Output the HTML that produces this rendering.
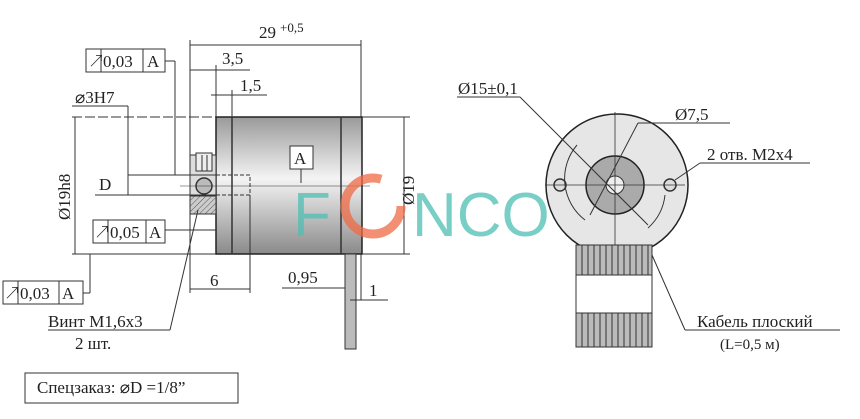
<!DOCTYPE html>
<html><head><style>
body{margin:0;background:#fff}
svg{display:block}
text{font-family:"Liberation Serif","Noto Serif CJK SC",serif;fill:#222}
text.wm{font-family:"Liberation Sans",sans-serif;fill:#4dbfb3}
</style></head><body>
<svg width="860" height="419" viewBox="0 0 860 419" xmlns="http://www.w3.org/2000/svg">
<defs>
<linearGradient id="cyl" x1="0" y1="0" x2="0" y2="1">
<stop offset="0" stop-color="#9a9a9a"/><stop offset="0.45" stop-color="#f4f4f4"/><stop offset="1" stop-color="#8a8a8a"/>
</linearGradient>
<pattern id="hat" width="4" height="4" patternUnits="userSpaceOnUse" patternTransform="rotate(45)">
<rect width="4" height="4" fill="#ccc"/><line x1="0" y1="0" x2="0" y2="4" stroke="#555" stroke-width="1"/>
</pattern>
</defs>
<g stroke="#333" stroke-width="1" fill="none">
<rect x="216" y="117" width="146" height="137" fill="url(#cyl)" stroke="#222" stroke-width="1.5"/>
<line x1="232" y1="117" x2="232" y2="254" stroke-width="1.5"/>
<line x1="341" y1="117" x2="341" y2="254" stroke-width="1.5"/>
<rect x="190" y="155" width="26" height="59" fill="#ddd"/>
<rect x="190" y="196" width="26" height="18" fill="url(#hat)"/>
<rect x="196" y="153" width="16" height="18" fill="#eee"/>
<line x1="202" y1="155" x2="202" y2="171"/><line x1="207" y1="155" x2="207" y2="171"/>
<circle cx="204" cy="186" r="8" fill="#bbb" stroke-width="1.5"/>
<rect x="216" y="175" width="34" height="20" stroke-dasharray="4,2"/>
<line x1="180" y1="186" x2="370" y2="186" stroke-width="0.6"/>
<rect x="345" y="254" width="11" height="95" fill="#bbb"/>
<line x1="190" y1="45" x2="361" y2="45"/>
<line x1="190" y1="40" x2="190" y2="155"/><line x1="361" y1="40" x2="361" y2="117"/>
<line x1="190" y1="70" x2="250" y2="70"/><line x1="216" y1="65" x2="216" y2="117"/>
<line x1="211" y1="95" x2="267" y2="95"/><line x1="232" y1="90" x2="232" y2="117"/>
<line x1="72" y1="117" x2="216" y2="117" stroke-dasharray="10,3"/>
<line x1="72" y1="254" x2="216" y2="254"/>
<line x1="75" y1="117" x2="75" y2="254"/>
<line x1="362" y1="117" x2="410" y2="117"/><line x1="362" y1="254" x2="410" y2="254"/>
<line x1="404" y1="117" x2="404" y2="254"/>
<line x1="128" y1="175" x2="216" y2="175"/><line x1="95" y1="195" x2="216" y2="195"/>
<line x1="128" y1="175" x2="128" y2="195"/>
<line x1="72" y1="106" x2="128" y2="106"/><line x1="128" y1="106" x2="128" y2="175"/>
<line x1="165" y1="61" x2="175" y2="61"/><line x1="175" y1="61" x2="175" y2="175"/>
<line x1="165" y1="230" x2="216" y2="230"/>
<line x1="83" y1="293" x2="90" y2="293"/><line x1="90" y1="293" x2="90" y2="254"/>
<line x1="48" y1="330" x2="170" y2="330"/><line x1="170" y1="330" x2="198" y2="210"/>
<line x1="190" y1="214" x2="190" y2="293"/><line x1="250" y1="195" x2="250" y2="293"/>
<line x1="190" y1="289" x2="250" y2="289"/>
<line x1="282" y1="288" x2="345" y2="288"/><line x1="350" y1="300" x2="388" y2="300"/>
<line x1="361" y1="254" x2="361" y2="300"/>
<rect x="86" y="49" width="79" height="23" fill="#fff"/><line x1="101" y1="49" x2="101" y2="72"/><line x1="143" y1="49" x2="143" y2="72"/>
<rect x="93" y="220" width="72" height="23" fill="#fff"/><line x1="108" y1="220" x2="108" y2="243"/><line x1="146" y1="220" x2="146" y2="243"/>
<rect x="3" y="281" width="80" height="23" fill="#fff"/><line x1="18" y1="281" x2="18" y2="304"/><line x1="59" y1="281" x2="59" y2="304"/>
<rect x="290" y="146" width="23" height="23" fill="#fff"/>
<line x1="301" y1="169" x2="301" y2="183"/>
<rect x="25" y="373" width="213" height="30"/>
<circle cx="617" cy="185" r="71" fill="#e6e6e6" stroke="#222" stroke-width="1.5"/>
<circle cx="615" cy="185" r="29" fill="#aaa" stroke="#222" stroke-width="1.5"/>
<circle cx="615" cy="185" r="9" fill="#eee"/>
<circle cx="560" cy="185" r="6" fill="#ddd" stroke-width="1.5"/>
<circle cx="670" cy="185" r="6" fill="#ddd" stroke-width="1.5"/>
<line x1="545" y1="185" x2="685" y2="185" stroke-width="0.8"/>
<line x1="615" y1="112" x2="615" y2="255" stroke-width="0.8"/>
<line x1="457" y1="97" x2="520" y2="97"/><line x1="520" y1="97" x2="648" y2="225"/>
<line x1="638" y1="123" x2="730" y2="123"/><line x1="638" y1="123" x2="590" y2="215"/>
<line x1="700" y1="163" x2="810" y2="163"/><line x1="700" y1="163" x2="675" y2="180"/>
<path d="M577 145 A52 52 0 0 0 585 220"/><path d="M665 195 A52 52 0 0 1 648 228"/>
<rect x="576" y="245" width="76" height="30" fill="#bbb"/>
<rect x="576" y="313" width="76" height="34" fill="#bbb"/>
<line x1="576" y1="275" x2="576" y2="313"/><line x1="652" y1="275" x2="652" y2="313"/>
<line x1="652" y1="255" x2="685" y2="330"/><line x1="685" y1="330" x2="840" y2="330"/>
</g>
<g stroke="#333" stroke-width="1">
<path d="M582 245v30M588 245v30M594 245v30M600 245v30M606 245v30M612 245v30M618 245v30M624 245v30M630 245v30M636 245v30M642 245v30M648 245v30"/>
<path d="M582 313v34M588 313v34M594 313v34M600 313v34M606 313v34M612 313v34M618 313v34M624 313v34M630 313v34M636 313v34M642 313v34M648 313v34"/>
</g>
<g font-size="17">
<text x="259" y="38">29</text><text x="280" y="32" font-size="13">+0,5</text>
<text x="222" y="64">3,5</text><text x="240" y="91">1,5</text>
<text x="75" y="103">⌀3H7</text>
<text x="99" y="190">D</text>
<text x="70" y="220" transform="rotate(-90 70 220)">Ø19h8</text>
<text x="414" y="205" transform="rotate(-90 414 205)">Ø19</text>
<text x="88" y="67">↗</text><text x="103" y="67">0,03</text><text x="147" y="67">A</text>
<text x="94" y="238">↗</text><text x="110" y="238">0,05</text><text x="149" y="238">A</text>
<text x="4" y="299">↗</text><text x="20" y="299">0,03</text><text x="62" y="299">A</text>
<text x="294" y="164">A</text>
<text x="210" y="286">6</text><text x="288" y="283">0,95</text><text x="369" y="296">1</text>
<text x="48" y="327">Винт М1,6х3</text><text x="75" y="349">2 шт.</text>
<text x="37" y="393">Спецзаказ: ⌀D =1/8”</text>
<text x="458" y="94">Ø15±0,1</text><text x="675" y="120">Ø7,5</text>
<text x="707" y="160">2 отв. М2х4</text>
<text x="697" y="327">Кабель плоский</text>
<text x="720" y="349" font-size="15">(L=0,5 м)</text>
</g>
<g opacity="0.75">
<text class="wm" x="293" y="236" font-size="62">F</text>
<circle cx="373" cy="206" r="28" fill="none" stroke="#f06a45" stroke-width="9" stroke-dasharray="140,40"/>
<text class="wm" x="412" y="236" font-size="62">NCO</text>
</g>
</svg>
</body></html>
